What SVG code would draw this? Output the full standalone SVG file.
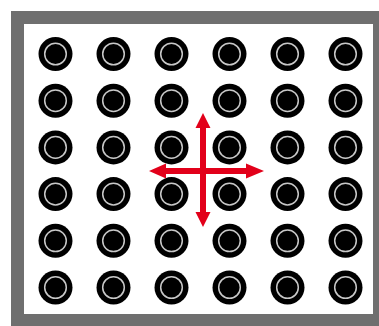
<svg xmlns="http://www.w3.org/2000/svg" width="379" height="326" viewBox="0 0 379 326">
<defs>
<style>
.o{fill:#000}
.r{fill:#000;stroke:#c8c8c8;stroke-width:1.5}
.ar{fill:#e2001a}
</style>
<g id="dot"><circle class="o" r="17"/><circle class="r" r="10.8"/></g>
</defs>
<rect x="0" y="0" width="379" height="326" fill="#fff"/>
<g id="frame">
<rect x="11" y="11" width="368" height="315" fill="#6f6f6f"/>
<rect x="24" y="24" width="349" height="290" fill="#fff"/>
</g>
<g id="grid">
<g id="r1"><use href="#dot" x="55.5" y="54"/><use href="#dot" x="113.5" y="54"/><use href="#dot" x="171.5" y="54"/><use href="#dot" x="229.5" y="54"/><use href="#dot" x="287.5" y="54"/><use href="#dot" x="345.5" y="54"/></g>
<g id="r2"><use href="#dot" x="55.5" y="100.7"/><use href="#dot" x="113.5" y="100.7"/><use href="#dot" x="171.5" y="100.7"/><use href="#dot" x="229.5" y="100.7"/><use href="#dot" x="287.5" y="100.7"/><use href="#dot" x="345.5" y="100.7"/></g>
<g id="r3"><use href="#dot" x="55.5" y="147.4"/><use href="#dot" x="113.5" y="147.4"/><use href="#dot" x="171.5" y="147.4"/><use href="#dot" x="229.5" y="147.4"/><use href="#dot" x="287.5" y="147.4"/><use href="#dot" x="345.5" y="147.4"/></g>
<g id="r4"><use href="#dot" x="55.5" y="194.1"/><use href="#dot" x="113.5" y="194.1"/><use href="#dot" x="171.5" y="194.1"/><use href="#dot" x="229.5" y="194.1"/><use href="#dot" x="287.5" y="194.1"/><use href="#dot" x="345.5" y="194.1"/></g>
<g id="r5"><use href="#dot" x="55.5" y="240.8"/><use href="#dot" x="113.5" y="240.8"/><use href="#dot" x="171.5" y="240.8"/><use href="#dot" x="229.5" y="240.8"/><use href="#dot" x="287.5" y="240.8"/><use href="#dot" x="345.5" y="240.8"/></g>
<g id="r6"><use href="#dot" x="55.5" y="287.5"/><use href="#dot" x="113.5" y="287.5"/><use href="#dot" x="171.5" y="287.5"/><use href="#dot" x="229.5" y="287.5"/><use href="#dot" x="287.5" y="287.5"/><use href="#dot" x="345.5" y="287.5"/></g>
</g>
<g id="cross">
<path class="ar" d="M203,113 L210.5,128 L206,128 L206,168 L246,168 L246,163.5 L264,171 L246,178.5 L246,174 L206,174 L206,212 L210.5,212 L203,227 L195.5,212 L200,212 L200,174 L166,174 L166,178.5 L149,171 L166,163.5 L166,168 L200,168 L200,128 L195.5,128 Z"/>
</g>
</svg>
